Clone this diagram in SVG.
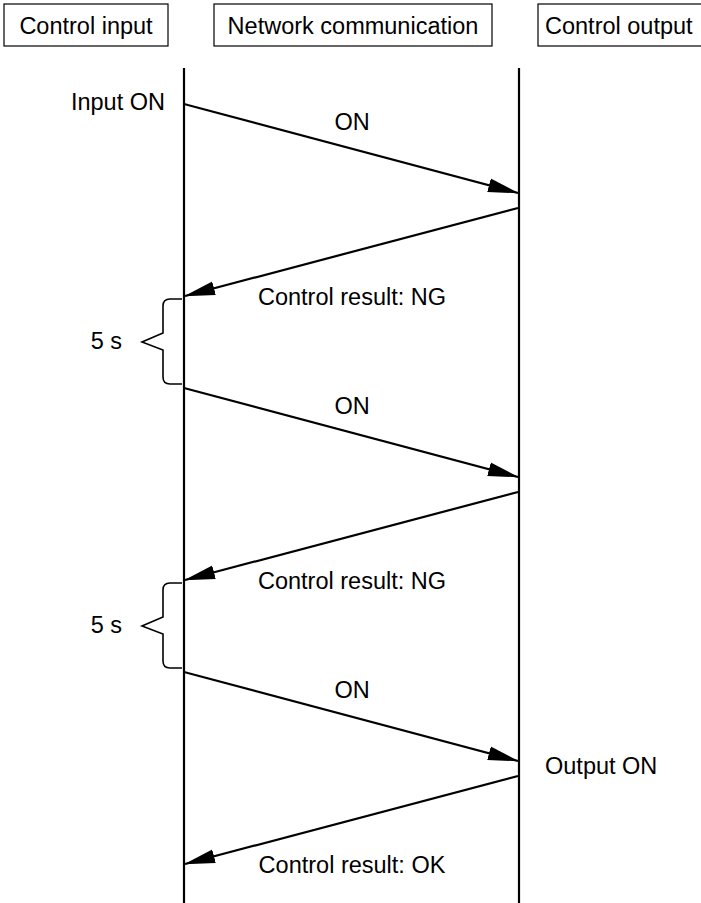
<svg xmlns="http://www.w3.org/2000/svg" width="701" height="903" viewBox="0 0 701 903">
<style>
text{font-family:"Liberation Sans",Arial,sans-serif;font-size:23.5px;fill:#000}
.box{fill:#fff;stroke:#000;stroke-width:1.2}
.life{stroke:#000;stroke-width:2.2;fill:none}
.msg{stroke:#000;stroke-width:2.2;fill:none;marker-end:url(#ah)}
.brace{stroke:#000;stroke-width:1.6;fill:none}
</style>
<defs>
<marker id="ah" markerUnits="userSpaceOnUse" markerWidth="31" markerHeight="16" refX="30" refY="8" orient="auto">
<path d="M0,1 L31,8 L0,15 z" fill="#000"/>
</marker>
</defs>
<rect width="701" height="903" fill="#fff"/>
<g id="control-input">
<rect class="box" x="4" y="4" width="164" height="42"/>
<text x="86" y="34" text-anchor="middle">Control input</text>
<line class="life" x1="184" y1="68" x2="184" y2="903"/>
</g>
<g id="network-communication">
<rect class="box" x="214" y="4" width="278" height="42"/>
<text x="353" y="34" text-anchor="middle">Network communication</text>
</g>
<g id="control-output">
<rect class="box" x="538" y="4" width="170" height="42"/>
<text x="545" y="34">Control output</text>
<line class="life" x1="519" y1="68" x2="519" y2="903"/>
</g>
<g id="labels">
<text x="165" y="110" text-anchor="end">Input ON</text>
<text x="545" y="774">Output ON</text>
<text x="122" y="349" text-anchor="end">5 s</text>
<text x="122" y="633" text-anchor="end">5 s</text>
</g>
<g id="braces">
<path class="brace" d="M182,299 H170 Q163,299 163,306 V333 L142,342 L163,350 V377 Q163,384 170,384 H182"/>
<path class="brace" d="M182,583 H170 Q163,583 163,590 V617 L142,626 L163,634 V661 Q163,668 170,668 H182"/>
</g>
<g id="connectors">
<line class="msg" x1="184" y1="104" x2="518" y2="193"/>
<text x="352" y="130" text-anchor="middle">ON</text>
<line class="msg" x1="518" y1="208" x2="185" y2="296"/>
<text x="352" y="305" text-anchor="middle">Control result: NG</text>
<line class="msg" x1="184" y1="388" x2="518" y2="477"/>
<text x="352" y="414" text-anchor="middle">ON</text>
<line class="msg" x1="518" y1="492" x2="185" y2="580"/>
<text x="352" y="589" text-anchor="middle">Control result: NG</text>
<line class="msg" x1="184" y1="672" x2="518" y2="761"/>
<text x="352" y="698" text-anchor="middle">ON</text>
<line class="msg" x1="518" y1="776" x2="185" y2="864"/>
<text x="352" y="873" text-anchor="middle">Control result: OK</text>
</g>
</svg>
